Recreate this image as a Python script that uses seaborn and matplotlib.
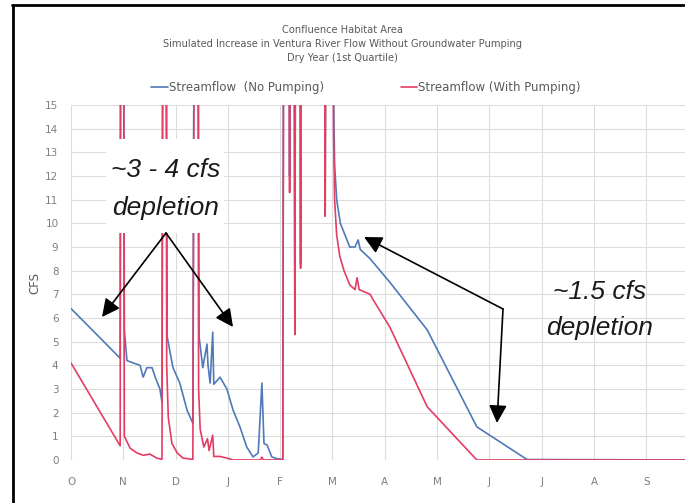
import numpy as np
import pandas as pd
import matplotlib
matplotlib.use("Agg")
import matplotlib.pyplot as plt
import matplotlib.patches as patches
from matplotlib.lines import Line2D
import seaborn as sns

# Data (x = posisi bulan dari 1 Oktober, y = CFS). Nilai 40 = puncak di luar skala
bulan = ["O", "N", "D", "J", "F", "M", "A", "M", "J", "J", "A", "S"]

no_pump_x = [0.00, 0.94, 0.96, 0.99, 1.02, 1.07, 1.19, 1.32, 1.38, 1.45, 1.55, 1.61, 1.70, 1.74,
             1.77, 1.80, 1.84, 1.95, 2.08, 2.22, 2.33,
             2.38, 2.41, 2.45, 2.52, 2.60, 2.62, 2.66, 2.71, 2.73, 2.85, 2.98, 3.10, 3.23, 3.36,
             3.48, 3.58, 3.65, 3.69, 3.75, 3.84, 3.94, 4.05,
             4.08, 4.15, 4.18, 4.20, 4.25, 4.28, 4.31, 4.36, 4.39, 4.41, 4.83, 4.86, 4.90, 4.98,
             5.02, 5.04, 5.08, 5.15, 5.24, 5.33, 5.43, 5.49, 5.53, 5.72, 6.10, 6.81, 7.76, 8.72, 12.2]
no_pump_y = [6.40, 4.30, 40, 40, 5.50, 4.20, 4.10, 4.00, 3.50, 3.90, 3.90, 3.50, 3.00, 2.45,
             40, 40, 5.20, 3.90, 3.25, 2.10, 1.55,
             40, 40, 5.20, 3.90, 4.90, 4.00, 3.25, 5.40, 3.20, 3.50, 3.00, 2.10, 1.40, 0.55,
             0.13, 0.30, 3.25, 0.70, 0.63, 0.13, 0.05, 0.03,
             40, 40, 12.0, 40, 40, 5.6, 40, 40, 8.3, 40, 40, 10.6, 40, 40,
             15.5, 12.5, 11.0, 10.0, 9.5, 9.0, 9.0, 9.3, 8.9, 8.5, 7.5, 5.5, 1.4, 0.02, 0.0]

with_pump_x = [0.00, 0.94, 0.96, 0.99, 1.02, 1.13, 1.26, 1.38, 1.51, 1.64, 1.74,
               1.77, 1.80, 1.83, 1.86, 1.93, 2.03, 2.14, 2.33,
               2.38, 2.41, 2.44, 2.47, 2.54, 2.61, 2.64, 2.71, 2.73, 2.85, 2.98, 3.10, 3.62, 3.65, 3.68, 4.05,
               4.08, 4.15, 4.18, 4.20, 4.25, 4.28, 4.31, 4.36, 4.39, 4.41, 4.83, 4.86, 4.90, 4.98,
               5.02, 5.04, 5.08, 5.14, 5.22, 5.33, 5.43, 5.47, 5.51, 5.72, 5.77, 6.10, 6.81, 7.76, 12.2]
with_pump_y = [4.10, 0.60, 40, 40, 1.00, 0.50, 0.30, 0.20, 0.25, 0.08, 0.03,
               40, 40, 4.00, 1.80, 0.70, 0.30, 0.08, 0.03,
               40, 40, 3.00, 1.30, 0.55, 0.90, 0.40, 1.05, 0.15, 0.15, 0.08, 0.00, 0.00, 0.12, 0.00, 0.00,
               40, 40, 11.3, 40, 40, 5.3, 40, 40, 8.1, 40, 40, 10.3, 40, 40,
               14.0, 11.0, 9.5, 8.6, 8.0, 7.4, 7.2, 7.7, 7.2, 7.0, 6.8, 5.6, 2.25, 0.0, 0.0]

label_no = "Streamflow  (No Pumping)"
label_with = "Streamflow (With Pumping)"

df = pd.concat([
    pd.DataFrame({"bulan": no_pump_x, "cfs": no_pump_y, "seri": label_no}),
    pd.DataFrame({"bulan": with_pump_x, "cfs": with_pump_y, "seri": label_with}),
])

WARNA_BIRU = "#4f79b8"
WARNA_MERAH = "#e33d63"
ABU = "#7f7f7f"

sns.set_theme(style="white")
plt.rcParams["font.family"] = ["DejaVu Sans"]

W, H = 685, 503
fig = plt.figure(figsize=(W / 100, H / 100), dpi=100)

def fx(px):
    return px / W

def fy(py):
    return 1 - py / H

# area plot: O di x=71, 15 di y=105, 0 di y=460, 52.3 px per bulan
ax = fig.add_axes([fx(71), fy(460), 12 * 52.3 / W, 355 / H])

sns.lineplot(data=df, x="bulan", y="cfs", hue="seri", estimator=None, sort=False,
             palette={label_no: WARNA_BIRU, label_with: WARNA_MERAH},
             hue_order=[label_no, label_with], linewidth=1.2, ax=ax, legend=False, zorder=2)

ax.set_xlim(0, 12)
ax.set_ylim(0, 15)
ax.set_xticks(range(12))
ax.set_xticklabels(bulan)
ax.set_yticks(range(16))
ax.tick_params(axis="both", length=0, labelsize=7.5, labelcolor=ABU)
ax.tick_params(axis="x", pad=12)
ax.tick_params(axis="y", pad=9)
ax.set_xlabel("")
ax.set_ylabel("CFS", fontsize=8.5, color="#595959", labelpad=3)
ax.grid(True, color="#dcdcdc", linewidth=0.8)
ax.set_axisbelow(True)
for s in ax.spines.values():
    s.set_visible(False)

# judul
judul_kw = dict(ha="center", va="center", fontsize=7.1, color="#595959")
fig.text(0.5, fy(30), "Confluence Habitat Area", **judul_kw)
fig.text(0.5, fy(44), "Simulated Increase in Ventura River Flow Without Groundwater Pumping", **judul_kw)
fig.text(0.5, fy(58), "Dry Year (1st Quartile)", **judul_kw)

# legenda
handles = [Line2D([], [], color=WARNA_BIRU, lw=1.2), Line2D([], [], color=WARNA_MERAH, lw=1.2)]
fig.legend(handles, [label_no, label_with], loc="center", bbox_to_anchor=(fx(366), fy(88)),
           ncol=2, frameon=False, fontsize=8.5, handlelength=1.4, handletextpad=0.1,
           columnspacing=6.5, labelcolor="#595959")

# kotak putih di belakang teks kiri
fig.add_artist(patches.Rectangle((fx(106), fy(233)), (224 - 106) / W, (233 - 139) / H,
                                 transform=fig.transFigure, facecolor="white", edgecolor="none", zorder=3))

teks_kw = dict(ha="center", va="center", fontsize=19, style="italic",
               family=["Liberation Sans", "DejaVu Sans"], color="#1a1a1a", zorder=4)
fig.text(fx(166), fy(170), "~3 - 4 cfs", **teks_kw)
fig.text(fx(166), fy(208), "depletion", **teks_kw)
fig.text(fx(600), fy(292), "~1.5 cfs", **teks_kw)
fig.text(fx(600), fy(328), "depletion", **teks_kw)

panah = dict(arrowstyle="-|>,head_length=0.9,head_width=0.45", color="black", lw=1.2,
             shrinkA=0, shrinkB=0)
for ekor, kepala in [((166, 233), (102, 317)), ((166, 233), (233, 327)),
                     ((503, 309), (364, 237)), ((503, 309), (497, 423))]:
    fig.add_artist(matplotlib.text.Annotation(
        "", xy=(fx(kepala[0]), fy(kepala[1])), xytext=(fx(ekor[0]), fy(ekor[1])),
        xycoords="figure fraction", textcoords="figure fraction", arrowprops=panah))

# bingkai hitam kiri dan atas
fig.add_artist(Line2D([fx(13), fx(13)], [fy(503), fy(5)], color="black", lw=2, transform=fig.transFigure))
fig.add_artist(Line2D([fx(12), fx(685)], [fy(5), fy(5)], color="black", lw=2, transform=fig.transFigure))

fig.savefig("out.png", dpi=100)
